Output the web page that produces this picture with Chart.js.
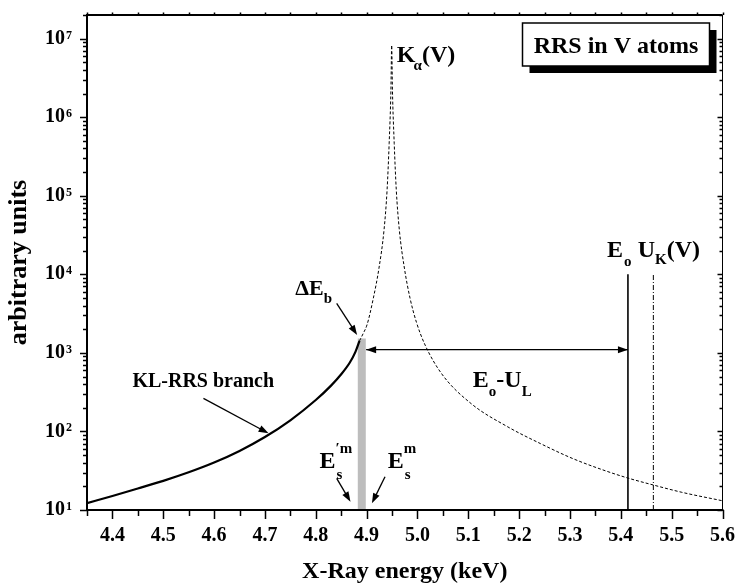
<!DOCTYPE html>
<html>
<head>
<meta charset="utf-8">
<title>RRS in V atoms</title>
<script src="https://cdn.jsdelivr.net/npm/chart.js@4.4.1/dist/chart.umd.min.js"></script>
<style>
  html, body { margin: 0; padding: 0; background: #fff; }
  #wrap { width: 742px; height: 585px; }
</style>
</head>
<body>
<div id="wrap"><canvas id="myChart" width="742" height="585"></canvas></div>
<script>
// KL-RRS branch (solid line)
const rrsEnergy    = [4.35, 4.40, 4.45, 4.50, 4.55, 4.60, 4.65, 4.70, 4.75,  4.80, 4.83, 4.85, 4.867, 4.878, 4.886];
const rrsIntensity = [12.2, 15.1, 18.8, 23.5, 30.2, 40.2, 56.5, 84.9, 138.6, 251,  383,  534,  754,   1029,  1424];

// K-alpha(V) line (dashed)
const kaEnergy    = [4.886, 4.893, 4.901, 4.9133, 4.9243, 4.9343, 4.9403, 4.9443, 4.9478, 4.9493,
                     4.9508, 4.9543, 4.9583, 4.9643, 4.9743, 4.9853, 4.998, 5.015, 5.048, 5.106,
                     5.177, 5.242, 5.306, 5.370, 5.414, 5.464, 5.520, 5.600];
const kaIntensity = [1424, 1750, 2300, 5000, 12000, 37000, 120000, 460000, 2200000, 8200000,
                     2200000, 460000, 120000, 37000, 12000, 5000, 2450, 1260, 538, 225,
                     115, 70, 45, 31.5, 25.5, 20.8, 16.8, 13.1];

// grey band (Delta E_b), E0-UL arrow, E0 and UK(V) markers
const bandEnergy     = [4.8905, 4.8905];
const bandIntensity  = [10, 1520];
const arrowEnergy    = [4.899, 5.414];
const arrowIntensity = [1100, 1100];
const e0Energy       = [5.414, 5.414];
const e0Intensity    = [10, 10000];
const ukEnergy       = [5.464, 5.464];
const ukIntensity    = [10, 10000];

// axes
const xMin = 4.35, xMax = 5.6, xMinorStep = 0.05;
const yMin = 10, yMax = 2e7;
const xTickLabels = ['4.4', '4.5', '4.6', '4.7', '4.8', '4.9', '5.0', '5.1', '5.2', '5.3', '5.4', '5.5', '5.6'];
const yTickExponents = [1, 2, 3, 4, 5, 6, 7];

const FONT = "'Liberation Serif', 'Times New Roman', serif";

function pts(xs, ys) {
    return xs.map((x, i) => ({x: x, y: ys[i]}));
}

// text labels placed in data coordinates (left x, baseline y)
const labels = [
    {e: 4.4393, v: 367,    parts: [{t: 'KL-RRS branch', s: 20}]},
    {e: 4.7596, v: 5450,   parts: [{t: 'ΔE', s: 22}, {t: 'b', s: 15, dy: 8}]},
    {e: 4.8075, v: 34,     parts: [{t: 'E', s: 24}, {t: 's', s: 15, dy: 11, hold: true, dx: 1}, {t: '′m', s: 15, dy: -15}]},
    {e: 4.9414, v: 34,     parts: [{t: 'E', s: 24}, {t: 's', s: 15, dy: 11, hold: true, dx: 1}, {t: 'm', s: 15, dy: -15}]},
    {e: 5.1089, v: 367,    parts: [{t: 'E', s: 24}, {t: 'o', s: 15, dy: 9}, {t: '-U', s: 24}, {t: 'L', s: 15, dy: 9}]},
    {e: 4.9595, v: 5.04e6, parts: [{t: 'K', s: 24}, {t: 'α', s: 15, dy: 8, dx: -2}, {t: '(V)', s: 24}]},
    {e: 5.3729, v: 16600,  parts: [{t: 'E', s: 24}, {t: 'o', s: 15, dy: 9, dx: 1}]},
    {e: 5.4331, v: 16600,  parts: [{t: 'U', s: 24}, {t: 'K', s: 15, dy: 7}, {t: '(V)', s: 24}]}
];

// pointer arrows (tail -> head) in data coordinates
const pointers = [
    [4.579, 264, 4.7071, 94.6],
    [4.8411, 4280, 4.8813, 1690],
    [4.8411, 25.3, 4.8683, 12.75],
    [4.9362, 26.5, 4.9104, 12.2]
];

function arrowHead(ctx, x1, y1, x2, y2, len, half) {
    const a = Math.atan2(y2 - y1, x2 - x1);
    ctx.beginPath();
    ctx.moveTo(x2, y2);
    ctx.lineTo(x2 - len * Math.cos(a) + half * Math.sin(a), y2 - len * Math.sin(a) - half * Math.cos(a));
    ctx.lineTo(x2 - len * Math.cos(a) - half * Math.sin(a), y2 - len * Math.sin(a) + half * Math.cos(a));
    ctx.closePath();
    ctx.fill();
}

function drawParts(ctx, parts, x, y) {
    let cx = x, held = 0;
    parts.forEach(p => {
        ctx.font = 'bold ' + p.s + 'px ' + FONT;
        const px = cx + (p.dx || 0);
        ctx.fillText(p.t, px, y + (p.dy || 0));
        const w = ctx.measureText(p.t).width + (p.dx || 0);
        if (p.hold) {
            held = w;
        } else {
            cx += Math.max(w, held);
            held = 0;
        }
    });
}

const framePlugin = {
    id: 'frame',
    afterDatasetsDraw(chart) {
        const ctx = chart.ctx;
        const a = chart.chartArea;
        const xs = chart.scales.x, ys = chart.scales.y;
        ctx.save();
        ctx.fillStyle = '#000';
        ctx.strokeStyle = '#000';

        // arrowheads on the E0-UL arrow
        const ay = ys.getPixelForValue(arrowIntensity[0]);
        const ax0 = xs.getPixelForValue(arrowEnergy[0]);
        const ax1 = xs.getPixelForValue(arrowEnergy[1]);
        arrowHead(ctx, ax1, ay, ax0, ay, 10, 3.5);
        arrowHead(ctx, ax0, ay, ax1, ay, 10, 3.5);

        // pointers
        ctx.lineWidth = 1.3;
        pointers.forEach(p => {
            const x1 = xs.getPixelForValue(p[0]), y1 = ys.getPixelForValue(p[1]);
            const x2 = xs.getPixelForValue(p[2]), y2 = ys.getPixelForValue(p[3]);
            const ang = Math.atan2(y2 - y1, x2 - x1);
            ctx.beginPath();
            ctx.moveTo(x1, y1);
            ctx.lineTo(x2 - 6 * Math.cos(ang), y2 - 6 * Math.sin(ang));
            ctx.stroke();
            arrowHead(ctx, x1, y1, x2, y2, 10, 3.5);
        });

        // text labels
        ctx.textAlign = 'left';
        ctx.textBaseline = 'alphabetic';
        labels.forEach(l => {
            drawParts(ctx, l.parts, xs.getPixelForValue(l.e), ys.getPixelForValue(l.v));
        });

        // title box with shadow
        const bw = 187, bh = 43;
        const bx = a.right - 13 - bw, by = a.top + 8;
        ctx.fillRect(bx + 7, by + 7, bw, bh);
        ctx.fillStyle = '#fff';
        ctx.fillRect(bx, by, bw, bh);
        ctx.lineWidth = 1.5;
        ctx.strokeRect(bx, by, bw, bh);
        ctx.fillStyle = '#000';
        ctx.font = 'bold 24px ' + FONT;
        ctx.textAlign = 'center';
        ctx.fillText('RRS in V atoms', bx + bw / 2, by + 30);

        // frame
        ctx.lineWidth = 2;
        ctx.beginPath();
        ctx.moveTo(a.left, a.top); ctx.lineTo(a.right, a.top);
        ctx.moveTo(a.left, a.top - 1); ctx.lineTo(a.left, a.bottom + 1);
        ctx.moveTo(a.left - 1, a.bottom); ctx.lineTo(a.right + 1, a.bottom);
        ctx.stroke();
        ctx.lineWidth = 1;
        ctx.beginPath();
        ctx.moveTo(a.right, a.top); ctx.lineTo(a.right, a.bottom);
        ctx.stroke();

        // x ticks: bottom outward, top short outward
        ctx.lineWidth = 1.5;
        ctx.beginPath();
        const nx = Math.round((xMax - xMin) / xMinorStep);
        for (let i = 0; i <= nx; i++) {
            const px = Math.round(xs.getPixelForValue(xMin + i * xMinorStep)) + 0.5;
            const len = (i % 2 === 1) ? 9 : 6;
            ctx.moveTo(px, a.bottom); ctx.lineTo(px, a.bottom + len);
            ctx.moveTo(px, a.top); ctx.lineTo(px, a.top - 2.5);
        }
        ctx.stroke();

        // y ticks: left outward, right inward
        ctx.beginPath();
        yTickExponents.forEach(e => {
            for (let m = 1; m <= 9; m++) {
                const v = m * Math.pow(10, e);
                if (v > yMax) break;
                const py = Math.round(ys.getPixelForValue(v)) + 0.5;
                const major = m === 1;
                ctx.moveTo(a.left, py); ctx.lineTo(a.left - (major ? 7 : 4), py);
                ctx.moveTo(a.right, py); ctx.lineTo(a.right - (major ? 5 : 3), py);
            }
        });
        ctx.stroke();

        // y tick labels 10^n
        yTickExponents.forEach(e => {
            const py = ys.getPixelForValue(Math.pow(10, e));
            ctx.font = 'bold 20px ' + FONT;
            ctx.textAlign = 'right';
            ctx.textBaseline = 'middle';
            ctx.fillText('10', a.left - 22, py);
            ctx.font = 'bold 12px ' + FONT;
            ctx.textAlign = 'left';
            ctx.textBaseline = 'alphabetic';
            ctx.fillText(String(e), a.left - 21, py);
        });
        ctx.restore();
    }
};

const ctx = document.getElementById('myChart');
const cht = new Chart(ctx, {
    type: 'line',
    data: {
        datasets: [{
            label: 'KL-RRS branch',
            data: pts(rrsEnergy, rrsIntensity),
            borderColor: '#000',
            borderWidth: 2.2,
            pointRadius: 0,
            cubicInterpolationMode: 'monotone'
        }, {
            label: 'Ka(V)',
            data: pts(kaEnergy, kaIntensity),
            borderColor: '#000',
            borderWidth: 1,
            borderDash: [3, 2],
            pointRadius: 0,
            cubicInterpolationMode: 'monotone'
        }, {
            label: 'E0-UL',
            data: pts(arrowEnergy, arrowIntensity),
            borderColor: '#000',
            borderWidth: 1.3,
            pointRadius: 0
        }, {
            label: 'E0',
            data: pts(e0Energy, e0Intensity),
            borderColor: '#000',
            borderWidth: 1.6,
            pointRadius: 0
        }, {
            label: 'UK(V)',
            data: pts(ukEnergy, ukIntensity),
            borderColor: '#000',
            borderWidth: 1,
            borderDash: [5, 2, 1, 2],
            pointRadius: 0
        }, {
            label: 'dEb',
            data: pts(bandEnergy, bandIntensity),
            borderColor: '#bdbdbd',
            borderWidth: 8,
            borderCapStyle: 'butt',
            pointRadius: 0
        }]
    },
    options: {
        responsive: false,
        animation: false,
        layout: { padding: { top: 15, right: 11, left: 0, bottom: 0 } },
        plugins: { legend: { display: false }, tooltip: { enabled: false } },
        scales: {
            x: {
                type: 'linear',
                min: xMin,
                max: xMax,
                afterFit: (s) => { s.height = 75; },
                afterBuildTicks: (s) => { s.ticks = xTickLabels.map(l => ({value: parseFloat(l)})); },
                ticks: {
                    autoSkip: false,
                    maxRotation: 0,
                    padding: 7,
                    color: '#000',
                    font: { family: FONT, size: 20, weight: 'bold' },
                    callback: (v) => v.toFixed(1)
                },
                grid: { drawOnChartArea: false, tickLength: 7, color: 'rgba(0,0,0,0)', tickColor: 'rgba(0,0,0,0)' },
                border: { display: false },
                title: {
                    display: true,
                    text: 'X-Ray energy (keV)',
                    color: '#000',
                    font: { family: FONT, size: 24, weight: 'bold', lineHeight: 1 },
                    padding: { top: 0, bottom: 1 }
                }
            },
            y: {
                type: 'logarithmic',
                min: yMin,
                max: yMax,
                afterFit: (s) => { s.width = 87; },
                ticks: { display: false },
                grid: { drawOnChartArea: false, drawTicks: false, color: 'rgba(0,0,0,0)' },
                border: { display: false },
                title: {
                    display: true,
                    text: 'arbitrary units',
                    color: '#000',
                    font: { family: FONT, size: 26, weight: 'bold', lineHeight: 1 },
                    padding: { top: 6, bottom: 0 }
                }
            }
        }
    },
    plugins: [framePlugin]
});
</script>
</body>
</html>
